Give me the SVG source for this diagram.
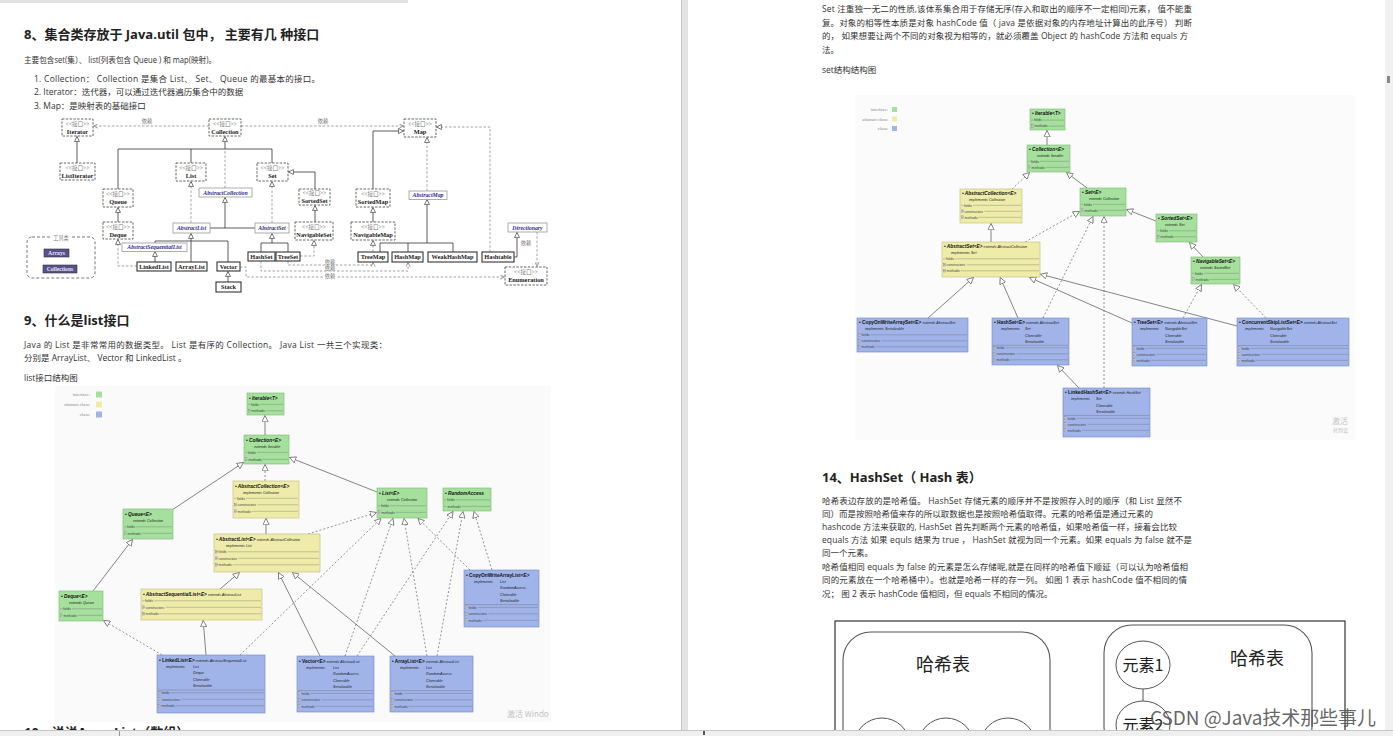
<svg xmlns="http://www.w3.org/2000/svg" width="1393" height="736" viewBox="0 0 1393 736">
<defs>
<style>
.bd{font-family:"Open Sans","Noto Sans CJK SC",sans-serif;font-size:8.5px;fill:#333}
.h{font-family:"Open Sans","Noto Sans CJK SC",sans-serif;font-size:13px;font-weight:bold;fill:#222}
.ib{fill:#fff;stroke:#555;stroke-width:.9;stroke-dasharray:2.4 1.4}
.ab{fill:#fff;stroke:#9a9a9a;stroke-width:.8}
.kb{fill:#fff;stroke:#333;stroke-width:1.1}
.st{font-family:"Liberation Serif","Noto Sans CJK SC",serif;font-size:5.6px;fill:#777;text-anchor:middle}
.cn{font-family:"Liberation Serif",serif;font-size:6.3px;font-weight:bold;fill:#222;text-anchor:middle}
.an{font-family:"Liberation Serif",serif;font-size:5.8px;font-weight:bold;font-style:italic;fill:#2f2b8f;text-anchor:middle}
.wt{font-family:"Liberation Serif",serif;font-size:5.6px;font-weight:bold;fill:#e6e6f2;text-anchor:middle}
.lb{font-family:"Noto Sans CJK SC",sans-serif;font-size:5.2px;fill:#777;text-anchor:middle}
.k1{fill:none;stroke:#333;stroke-width:.8}
.k2{fill:none;stroke:#8a8a8a;stroke-width:.8;stroke-dasharray:2.5 1.8}
.G{fill:#a5e09d;stroke:#7cb976;stroke-width:.6}
.Y{fill:#efeca9;stroke:#bebb7c;stroke-width:.6}
.B{fill:#a1b4e9;stroke:#7088c7;stroke-width:.6}
.tt{font-family:"Liberation Sans",sans-serif;font-size:4.8px;font-weight:bold;font-style:italic;fill:#111}
.tc{font-family:"Liberation Sans",sans-serif;font-size:4.8px;font-weight:bold;fill:#111}
.ex{font-family:"Liberation Sans",sans-serif;font-size:3.7px;font-style:italic;fill:#222}
.rw{font-family:"Liberation Sans",sans-serif;font-size:3.4px;fill:#444}
.rl{fill:none;stroke:#666;stroke-width:.35}
.cl{fill:none;stroke:#666;stroke-width:.8}
.cd{fill:none;stroke:#777;stroke-width:.8;stroke-dasharray:2 2}
.lg{font-family:"Liberation Serif",serif;font-size:4.6px;fill:#888;text-anchor:end}
.wm{font-family:"Noto Sans CJK SC",sans-serif;fill:#c4c4c4}
.hz{font-family:"Noto Sans CJK SC",sans-serif;fill:#222;text-anchor:middle}
.ol{fill:#fff;stroke:#555;stroke-width:1}
</style>
<g id="pl"><rect x="0" y="-2.6" width="2.6" height="2.6" fill="#fff" stroke="#444" stroke-width=".3"/><path d="M.5,-1.3h1.6M1.3,-2.1v1.6" stroke="#444" stroke-width=".3"/></g>
<marker id="tg" viewBox="0 0 10 10" refX="9.5" refY="5" markerWidth="7" markerHeight="7" markerUnits="userSpaceOnUse" orient="auto"><path d="M0.5,0.5L9.5,5L0.5,9.5z" fill="#fff" stroke="#666" stroke-width="1.1"/></marker>
<marker id="tk" viewBox="0 0 10 10" refX="9.5" refY="5" markerWidth="5.5" markerHeight="5.5" markerUnits="userSpaceOnUse" orient="auto"><path d="M0.5,0.5L9.5,5L0.5,9.5z" fill="#fff" stroke="#444" stroke-width="1.3"/></marker>
<marker id="ak" viewBox="0 0 10 10" refX="9.5" refY="5" markerWidth="5" markerHeight="5" markerUnits="userSpaceOnUse" orient="auto"><path d="M0.5,0.5L9.5,5L0.5,9.5" fill="none" stroke="#777" stroke-width="1.3"/></marker>
</defs>

<!-- page backgrounds -->
<rect width="1393" height="736" fill="#fff"/>
<rect x="0" y="0" width="408" height="3" fill="#e2e2e2"/>
<rect x="681" y="0" width="7" height="730" fill="#e3e3e3"/>
<line x1="681.5" y1="0" x2="681.5" y2="730" stroke="#c4c4c4"/>
<rect x="1385" y="0" width="8" height="736" fill="#f1f1f1"/>
<rect x="1387" y="76" width="3" height="7" fill="#888"/>

<!-- LEFT PAGE TEXT -->
<text class="h" x="24" y="39">8、集合类存放于 Java.util 包中， 主要有几 种接口</text>
<text class="bd" x="24" y="63" textLength="192" lengthAdjust="spacingAndGlyphs">主要包含set(集）、 list(列表包含 Queue ) 和 map(映射)。</text>
<text class="bd" x="34" y="82" textLength="286">1. Collection： Collection 是集合 List、 Set、 Queue 的最基本的接口。</text>
<text class="bd" x="34" y="95">2. Iterator：迭代器，可以通过迭代器遍历集合中的数据</text>
<text class="bd" x="34" y="109">3. Map：是映射表的基础接口</text>

<!-- COLLECTION FRAMEWORK DIAGRAM -->
<g id="collection-connectors">
<path class="k2" d="M209,126H93.5" marker-end="url(#ak)"/>
<text class="lb" x="147" y="123">依赖</text>
<path class="k2" d="M241,126H403.5" marker-end="url(#ak)"/>
<text class="lb" x="323" y="123">依赖</text>
<path class="k1" d="M77,163V136.5" marker-end="url(#tk)"/>
<path class="k2" d="M225,188V150"/>
<path class="k1" d="M118,189V149H272V163M191,149V163"/>
<path class="k1" d="M225,149V136.5" marker-end="url(#tk)"/>
<path class="k1" d="M315,189V172H288.5" marker-end="url(#tk)"/>
<path class="k2" d="M191,223V181.5" marker-end="url(#tk)"/>
<path class="k2" d="M272,223V181.5" marker-end="url(#tk)"/>
<path class="k1" d="M210,228H255"/>
<path class="k1" d="M225,228V197.5" marker-end="url(#tk)"/>
<path class="k1" d="M118,222V207.5" marker-end="url(#tk)"/>
<path class="k1" d="M315,222V205.5" marker-end="url(#tk)"/>
<path class="k1" d="M155,243V241H228V262"/>
<path class="k1" d="M191,262V233.5" marker-end="url(#tk)"/>
<path class="k1" d="M155,262V251.5" marker-end="url(#tk)"/>
<path class="k2" d="M137,266H118V239.5" marker-end="url(#tk)"/>
<path class="k1" d="M228,282V271.5" marker-end="url(#tk)"/>
<path class="k1" d="M261,252V243H288V252"/>
<path class="k1" d="M272,243V233.5" marker-end="url(#tk)"/>
<path class="k2" d="M300,256H314V240.5" marker-end="url(#tk)"/>
<path class="k2" d="M288,261V265H373V262.5" marker-end="url(#ak)"/>
<text class="lb" x="330" y="263.5">依赖</text>
<path class="k2" d="M261,261V271H408V262.5" marker-end="url(#ak)"/>
<text class="lb" x="330" y="270">依赖</text>
<path class="k2" d="M240,267H246V277H504.5" marker-end="url(#ak)"/>
<rect x="324" y="273" width="12" height="6" fill="#fff"/>
<text class="lb" x="330" y="278">依赖</text>
<path class="k1" d="M373,189V131H403.5" marker-end="url(#tk)"/>
<path class="k2" d="M427,191V137.5" marker-end="url(#tk)"/>
<path class="k1" d="M373,222V207.5" marker-end="url(#tk)"/>
<path class="k2" d="M373,252V240.5" marker-end="url(#tk)"/>
<path class="k1" d="M380,252V243H453V252M408,243V252"/>
<path class="k1" d="M427,243V199.5" marker-end="url(#tk)"/>
<path class="k2" d="M490,252V127H436.5" marker-end="url(#tk)"/>
<path class="k1" d="M514,257H517V232.5" marker-end="url(#tk)"/>
<path class="k2" d="M537,232V266.5" marker-end="url(#ak)"/>
<text class="lb" x="526" y="245">依赖</text>
</g>

<g id="c-iterator" transform="translate(62,119)"><rect class="ib" width="31" height="17"/><text class="st" x="15.5" y="6.5">&lt;&lt;接口&gt;&gt;</text><text class="cn" x="15.5" y="14.5">Iterator</text></g>
<g id="c-collection" transform="translate(209,119)"><rect class="ib" width="32" height="17"/><text class="st" x="16" y="6.5">&lt;&lt;接口&gt;&gt;</text><text class="cn" x="16" y="14.5">Collection</text></g>
<g id="c-map" transform="translate(404,119)"><rect class="ib" width="32" height="18"/><text class="st" x="16" y="6.5">&lt;&lt;接口&gt;&gt;</text><text class="cn" x="16" y="15">Map</text></g>
<g id="c-listiterator" transform="translate(60,163)"><rect class="ib" width="35" height="17"/><text class="st" x="17.5" y="6.5">&lt;&lt;接口&gt;&gt;</text><text class="cn" x="17.5" y="14.5">ListIterator</text></g>
<g id="c-list" transform="translate(176,163)"><rect class="ib" width="30" height="18"/><text class="st" x="15" y="6.5">&lt;&lt;接口&gt;&gt;</text><text class="cn" x="15" y="15">List</text></g>
<g id="c-set" transform="translate(257,163)"><rect class="ib" width="31" height="18"/><text class="st" x="15.5" y="6.5">&lt;&lt;接口&gt;&gt;</text><text class="cn" x="15.5" y="15">Set</text></g>
<g id="c-queue" transform="translate(103,189)"><rect class="ib" width="30" height="18"/><text class="st" x="15" y="6.5">&lt;&lt;接口&gt;&gt;</text><text class="cn" x="15" y="15">Queue</text></g>
<g id="c-sortedset" transform="translate(299,189)"><rect class="ib" width="31" height="16"/><text class="st" x="15.5" y="6">&lt;&lt;接口&gt;&gt;</text><text class="cn" x="15.5" y="13.5">SortedSet</text></g>
<g id="c-sortedmap" transform="translate(356,189)"><rect class="ib" width="34" height="18"/><text class="st" x="17" y="6.5">&lt;&lt;接口&gt;&gt;</text><text class="cn" x="17" y="15">SortedMap</text></g>
<g id="c-deque" transform="translate(103,222)"><rect class="ib" width="30" height="17"/><text class="st" x="15" y="6.5">&lt;&lt;接口&gt;&gt;</text><text class="cn" x="15" y="14.5">Deque</text></g>
<g id="c-navigableset" transform="translate(295,222)"><rect class="ib" width="38" height="18"/><text class="st" x="19" y="6.5">&lt;&lt;接口&gt;&gt;</text><text class="cn" x="19" y="15">NavigableSet</text></g>
<g id="c-navigablemap" transform="translate(351,222)"><rect class="ib" width="44" height="18"/><text class="st" x="22" y="6.5">&lt;&lt;接口&gt;&gt;</text><text class="cn" x="22" y="15">NavigableMap</text></g>
<g id="c-enumeration" transform="translate(505,267)"><rect class="ib" width="42" height="18"/><text class="st" x="21" y="6.5">&lt;&lt;接口&gt;&gt;</text><text class="cn" x="21" y="15">Enumeration</text></g>

<g id="c-abstractcollection" transform="translate(199,188)"><rect class="ab" width="53" height="9"/><text class="an" x="26.5" y="6.6">AbstractCollection</text></g>
<g id="c-abstractlist" transform="translate(173,223)"><rect class="ab" width="37" height="10"/><text class="an" x="18.5" y="7">AbstractList</text></g>
<g id="c-abstractset" transform="translate(255,223)"><rect class="ab" width="34" height="10"/><text class="an" x="17" y="7">AbstractSet</text></g>
<g id="c-abstractsequentiallist" transform="translate(122,243)"><rect class="ab" width="65" height="8.5"/><text class="an" x="32.5" y="6.4">AbstractSequentialList</text></g>
<g id="c-abstractmap" transform="translate(409,191)"><rect class="ab" width="38" height="8.5"/><text class="an" x="19" y="6.4">AbstractMap</text></g>
<g id="c-directionary" transform="translate(508,223)"><rect class="ab" width="39" height="9"/><text class="an" x="19.5" y="6.6">Directionary</text></g>

<g id="c-linkedlist" transform="translate(137,262)"><rect class="kb" width="34" height="9"/><text class="cn" x="17" y="6.8">LinkedList</text></g>
<g id="c-arraylist" transform="translate(176,262)"><rect class="kb" width="31" height="9"/><text class="cn" x="15.5" y="6.8">ArrayList</text></g>
<g id="c-vector" transform="translate(217,262)"><rect class="kb" width="23" height="9"/><text class="cn" x="11.5" y="6.8">Vector</text></g>
<g id="c-stack" transform="translate(216,282)"><rect class="kb" width="25" height="10"/><text class="cn" x="12.5" y="7.3">Stack</text></g>
<g id="c-hashset" transform="translate(248,252)"><rect class="kb" width="27" height="9"/><text class="cn" x="13.5" y="6.8">HashSet</text></g>
<g id="c-treeset" transform="translate(276,252)"><rect class="kb" width="24" height="9"/><text class="cn" x="12" y="6.8">TreeSet</text></g>
<g id="c-treemap" transform="translate(358,252)"><rect class="kb" width="30" height="10"/><text class="cn" x="15" y="7.3">TreeMap</text></g>
<g id="c-hashmap" transform="translate(392,252)"><rect class="kb" width="31" height="10"/><text class="cn" x="15.5" y="7.3">HashMap</text></g>
<g id="c-weakhashmap" transform="translate(428,252)"><rect class="kb" width="49" height="10"/><text class="cn" x="24.5" y="7.3">WeakHashMap</text></g>
<g id="c-hashtable" transform="translate(482,252)"><rect class="kb" width="32" height="10"/><text class="cn" x="16" y="7.3">Hashtable</text></g>

<g id="c-tools" transform="translate(27,237)">
<rect width="68" height="41" rx="5" fill="none" stroke="#666" stroke-width=".9" stroke-dasharray="3 2"/>
<rect x="23" y="-3" width="22" height="6" fill="#fff"/>
<text class="lb" x="34" y="2.8">工具类</text>
<rect x="17" y="12" width="25" height="8" fill="#56528f" stroke="#333" stroke-width=".6"/>
<text class="wt" x="29.5" y="18">Arrays</text>
<rect x="16" y="28" width="34" height="8" fill="#56528f" stroke="#333" stroke-width=".6"/>
<text class="wt" x="33" y="34">Collections</text>
</g>

<!-- SECTION 9 -->
<text class="h" x="24" y="325">9、什么是list接口</text>
<text class="bd" x="24" y="348" textLength="363">Java 的 List 是非常常用的数据类型。 List 是有序的 Collection。 Java List 一共三个实现类：</text>
<text class="bd" x="24" y="361">分别是 ArrayList、 Vector 和 LinkedList 。</text>
<text class="bd" x="24" y="381">list接口结构图</text>

<!-- LIST DIAGRAM -->
<rect x="55" y="386" width="496" height="336" fill="#fafafa"/>
<g id="list-legend">
<text class="lg" x="90" y="395.5">interface:</text><rect x="96" y="391.5" width="6" height="6" fill="#a5e09d"/>
<text class="lg" x="90" y="405.5">abstract class:</text><rect x="96" y="401.5" width="6" height="6" fill="#efeca9"/>
<text class="lg" x="90" y="415.5">class:</text><rect x="96" y="411.5" width="6" height="6" fill="#a1b4e9"/>
</g>
<g id="list-connectors">
<path class="cl" d="M265,435V415.5" marker-end="url(#tg)"/>
<path class="cd" d="M265,481V464.5" marker-end="url(#tg)"/>
<path class="cl" d="M172,510L243.5,462.5" marker-end="url(#tg)"/>
<path class="cl" d="M377,492L289.5,457.5" marker-end="url(#tg)"/>
<path class="cl" d="M266,534V518.5" marker-end="url(#tg)"/>
<path class="cd" d="M308,534L376.5,512.5" marker-end="url(#tg)"/>
<path class="cl" d="M93,591L132.5,539.5" marker-end="url(#tg)"/>
<path class="cl" d="M220,589L239.5,572.5" marker-end="url(#tg)"/>
<path class="cl" d="M206,655L203.2,620.5" marker-end="url(#tg)"/>
<path class="cd" d="M162,655L103.5,620.5" marker-end="url(#tg)"/>
<path class="cd" d="M240,655L381,518.5" marker-end="url(#tg)"/>
<path class="cl" d="M320,656L278.5,572.5" marker-end="url(#tg)"/>
<path class="cd" d="M345,656L393,518.5" marker-end="url(#tg)"/>
<path class="cd" d="M357,656L453,511.5" marker-end="url(#tg)"/>
<path class="cl" d="M395,656L292.5,572.5" marker-end="url(#tg)"/>
<path class="cd" d="M427,656L404,518.5" marker-end="url(#tg)"/>
<path class="cd" d="M437,656L463,511.5" marker-end="url(#tg)"/>
<path class="cd" d="M470,570L418,518.5" marker-end="url(#tg)"/>
<path class="cd" d="M492,570L474,511.5" marker-end="url(#tg)"/>
</g>

<g id="l-iterable" transform="translate(247,393)"><rect class="G" width="37" height="22"/><text class="tt" x="2" y="6.5">• Iterable&lt;T&gt;</text><text class="rw" x="4" y="12.5">fields</text><use href="#pl" x="1.2" y="19"/><text class="rw" x="4.6" y="19">methods</text><path class="rl" d="M1,11.3h2.4M13,11.3H36M18.5,17.8H36"/></g>
<g id="l-collection" transform="translate(244,435)"><rect class="G" width="45" height="29"/><text class="tt" x="2" y="6.5">• Collection&lt;E&gt;</text><text class="ex" x="10" y="12.5">extends  Iterable</text><text class="rw" x="4" y="18.5">fields</text><use href="#pl" x="1.2" y="25.5"/><text class="rw" x="4.6" y="25.5">methods</text><path class="rl" d="M1,17.3h2.4M13,17.3H44M18.5,24.3H44"/></g>
<g id="l-abstractcollection" transform="translate(233,481)"><rect class="Y" width="66" height="37"/><text class="tt" x="2" y="6.5">• AbstractCollection&lt;E&gt;</text><text class="ex" x="10" y="12.5">implements  Collection</text><text class="rw" x="4" y="18.5">fields</text><use href="#pl" x="1.2" y="25"/><text class="rw" x="4.6" y="25">constructors</text><use href="#pl" x="1.2" y="31.5"/><text class="rw" x="4.6" y="31.5">methods</text><path class="rl" d="M1,17.3h2.4M13,17.3H65M24.5,23.8H65M18.5,30.3H65"/></g>
<g id="l-queue" transform="translate(123,509)"><rect class="G" width="50" height="30"/><text class="tt" x="2" y="6.5">• Queue&lt;E&gt;</text><text class="ex" x="10" y="12.5">extends  Collection</text><text class="rw" x="4" y="19">fields</text><use href="#pl" x="1.2" y="25.5"/><text class="rw" x="4.6" y="25.5">methods</text><path class="rl" d="M1,17.8h2.4M13,17.8H49M18.5,24.3H49"/></g>
<g id="l-abstractlist" transform="translate(214,534)"><rect class="Y" width="106" height="38"/><text x="2" y="6.5"><tspan class="tt">• AbstractList&lt;E&gt;</tspan><tspan class="ex"> extends AbstractCollection</tspan></text><text class="ex" x="12" y="12.5">implements  List</text><use href="#pl" x="1.2" y="19"/><text class="rw" x="4.6" y="19">fields</text><use href="#pl" x="1.2" y="25.5"/><text class="rw" x="4.6" y="25.5">constructors</text><use href="#pl" x="1.2" y="32"/><text class="rw" x="4.6" y="32">methods</text><path class="rl" d="M13.6,17.8H105M24.5,24.3H105M18.5,30.8H105"/></g>
<g id="l-deque" transform="translate(59,591)"><rect class="G" width="44" height="30"/><text class="tt" x="2" y="6.5">• Deque&lt;E&gt;</text><text class="ex" x="10" y="12.5">extends  Queue</text><text class="rw" x="4" y="19">fields</text><use href="#pl" x="1.2" y="25.5"/><text class="rw" x="4.6" y="25.5">methods</text><path class="rl" d="M1,17.8h2.4M13,17.8H43M18.5,24.3H43"/></g>
<g id="l-abstractsequentiallist" transform="translate(141,589)"><rect class="Y" width="121" height="31"/><text x="2" y="6.5"><tspan class="tt">• AbstractSequentialList&lt;E&gt;</tspan><tspan class="ex"> extends AbstractList</tspan></text><text class="rw" x="4" y="13">fields</text><use href="#pl" x="1.2" y="19.5"/><text class="rw" x="4.6" y="19.5">constructors</text><use href="#pl" x="1.2" y="26"/><text class="rw" x="4.6" y="26">methods</text><path class="rl" d="M1,11.8h2.4M13,11.8H120M24.5,18.3H120M18.5,24.8H120"/></g>
<g id="l-list" transform="translate(377,488)"><rect class="G" width="50" height="30"/><text class="tt" x="2" y="6.5">• List&lt;E&gt;</text><text class="ex" x="10" y="12.5">extends  Collection</text><text class="rw" x="4" y="19">fields</text><use href="#pl" x="1.2" y="25.5"/><text class="rw" x="4.6" y="25.5">methods</text><path class="rl" d="M1,17.8h2.4M13,17.8H49M18.5,24.3H49"/></g>
<g id="l-randomaccess" transform="translate(443,488)"><rect class="G" width="48" height="23"/><text class="tt" x="2" y="6.5">• RandomAccess</text><text class="rw" x="4" y="13">fields</text><text class="rw" x="4.6" y="19.5">methods</text><path class="rl" d="M1,11.8h2.4M13,11.8H47M1,18.3h2.4M18.5,18.3H47"/></g>
<g id="l-copyonwritearraylist" transform="translate(464,570)"><rect class="B" width="75" height="57"/><text class="tc" x="2" y="6.5">• CopyOnWriteArrayList&lt;E&gt;</text><text class="ex" x="10" y="12.5">implements</text><text class="ex" x="36" y="12.5">List</text><text class="ex" x="36" y="19">RandomAccess</text><text class="ex" x="36" y="25.5">Cloneable</text><text class="ex" x="36" y="32">Serializable</text><use href="#pl" x="1.2" y="38.5"/><text class="rw" x="4.6" y="38.5">fields</text><use href="#pl" x="1.2" y="45"/><text class="rw" x="4.6" y="45">constructors</text><use href="#pl" x="1.2" y="51.5"/><text class="rw" x="4.6" y="51.5">methods</text><path class="rl" d="M1,34.6H74M13.6,37.3H74M24.5,43.8H74M18.5,50.3H74"/></g>
<g id="l-linkedlist" transform="translate(157,655)"><rect class="B" width="108" height="58"/><text x="2" y="6.5"><tspan class="tc">• LinkedList&lt;E&gt;</tspan><tspan class="ex"> extends AbstractSequentialList</tspan></text><text class="ex" x="9" y="12.5">implements</text><text class="ex" x="36" y="12.5">List</text><text class="ex" x="36" y="19">Deque</text><text class="ex" x="36" y="25.5">Cloneable</text><text class="ex" x="36" y="32">Serializable</text><use href="#pl" x="1.2" y="39"/><text class="rw" x="4.6" y="39">fields</text><use href="#pl" x="1.2" y="45.5"/><text class="rw" x="4.6" y="45.5">constructors</text><use href="#pl" x="1.2" y="52"/><text class="rw" x="4.6" y="52">methods</text><path class="rl" d="M1,35H107M13.6,37.8H107M24.5,44.3H107M18.5,50.8H107"/></g>
<g id="l-vector" transform="translate(297,656)"><rect class="B" width="77" height="56"/><text x="2" y="6.5"><tspan class="tc">• Vector&lt;E&gt;</tspan><tspan class="ex"> extends AbstractList</tspan></text><text class="ex" x="9" y="12.5">implements</text><text class="ex" x="36" y="12.5">List</text><text class="ex" x="36" y="19">RandomAccess</text><text class="ex" x="36" y="25.5">Cloneable</text><text class="ex" x="36" y="32">Serializable</text><use href="#pl" x="1.2" y="38.5"/><text class="rw" x="4.6" y="38.5">fields</text><use href="#pl" x="1.2" y="45"/><text class="rw" x="4.6" y="45">constructors</text><use href="#pl" x="1.2" y="51.5"/><text class="rw" x="4.6" y="51.5">methods</text><path class="rl" d="M1,34.6H76M13.6,37.3H76M24.5,43.8H76M18.5,50.3H76"/></g>
<g id="l-arraylist" transform="translate(390,656)"><rect class="B" width="83" height="56"/><text x="2" y="6.5"><tspan class="tc">• ArrayList&lt;E&gt;</tspan><tspan class="ex"> extends AbstractList</tspan></text><text class="ex" x="10" y="12.5">implements</text><text class="ex" x="36" y="12.5">List</text><text class="ex" x="36" y="19">RandomAccess</text><text class="ex" x="36" y="25.5">Cloneable</text><text class="ex" x="36" y="32">Serializable</text><use href="#pl" x="1.2" y="38.5"/><text class="rw" x="4.6" y="38.5">fields</text><use href="#pl" x="1.2" y="45"/><text class="rw" x="4.6" y="45">constructors</text><use href="#pl" x="1.2" y="51.5"/><text class="rw" x="4.6" y="51.5">methods</text><path class="rl" d="M1,34.6H82M13.6,37.3H82M24.5,43.8H82M18.5,50.3H82"/></g>
<text class="wm" x="507" y="717" font-size="8">激活 Windo</text>

<text class="h" x="24" y="737">10、说说ArrayList（数组）</text>

<!-- RIGHT PAGE TEXT -->
<text class="bd" x="822" y="12" textLength="370">Set 注重独一无二的性质,该体系集合用于存储无序(存入和取出的顺序不一定相同)元素， 值不能重</text>
<text class="bd" x="822" y="25.5" textLength="370">复。对象的相等性本质是对象 hashCode 值（ java 是依据对象的内存地址计算出的此序号） 判断</text>
<text class="bd" x="822" y="39" textLength="366">的， 如果想要让两个不同的对象视为相等的，就必须覆盖 Object 的 hashCode 方法和 equals 方</text>
<text class="bd" x="822" y="52.5">法。</text>
<text class="bd" x="822" y="73">set结构结构图</text>

<!-- SET DIAGRAM -->
<rect x="855" y="95" width="500" height="345" fill="#fbfbfb"/>
<g id="set-legend">
<text class="lg" x="888" y="111">interface:</text><rect x="892" y="107" width="5" height="5" fill="#a5e09d"/>
<text class="lg" x="888" y="120.5">abstract class:</text><rect x="892" y="116.5" width="5" height="5" fill="#efeca9"/>
<text class="lg" x="888" y="130">class:</text><rect x="892" y="126" width="5" height="5" fill="#a1b4e9"/>
</g>
<g id="set-connectors">
<path class="cl" d="M1047,145V130.5" marker-end="url(#tg)"/>
<path class="cd" d="M1012,189L1029.5,172.5" marker-end="url(#tg)"/>
<path class="cl" d="M1087,188L1066.5,172.5" marker-end="url(#tg)"/>
<path class="cl" d="M991,242V223.5" marker-end="url(#tg)"/>
<path class="cd" d="M1025,242L1079.5,211.5" marker-end="url(#tg)"/>
<path class="cl" d="M1156,221L1126.5,209.5" marker-end="url(#tg)"/>
<path class="cl" d="M1203,257L1189.5,242.5" marker-end="url(#tg)"/>
<path class="cl" d="M928,318L973.5,277.5" marker-end="url(#tg)"/>
<path class="cl" d="M1018,318L1000.2,277.5" marker-end="url(#tg)"/>
<path class="cd" d="M1043,318L1093,216.5" marker-end="url(#tg)"/>
<path class="cl" d="M1079,388L1057.5,365.5" marker-end="url(#tg)"/>
<path class="cd" d="M1104,388V216.5" marker-end="url(#tg)"/>
<path class="cl" d="M1132,323L1029.5,277.5" marker-end="url(#tg)"/>
<path class="cl" d="M1237,326L1040.5,274.2" marker-end="url(#tg)"/>
<path class="cd" d="M1183,318L1201.5,284.5" marker-end="url(#tg)"/>
<path class="cd" d="M1266,318L1233.5,284.5" marker-end="url(#tg)"/>
</g>

<g id="s-iterable" transform="translate(1030,109)"><rect class="G" width="35" height="21"/><text class="tt" x="2" y="6.3">• Iterable&lt;T&gt;</text><text class="rw" x="4" y="12.3">fields</text><use href="#pl" x="1.2" y="18.3"/><text class="rw" x="4.6" y="18.3">methods</text><path class="rl" d="M1,11.1h2.4M13,11.1H34M18.5,17.1H34"/></g>
<g id="s-collection" transform="translate(1027,145)"><rect class="G" width="43" height="27"/><text class="tt" x="2" y="6.3">• Collection&lt;E&gt;</text><text class="ex" x="10" y="12">extends  Iterable</text><text class="rw" x="4" y="17.5">fields</text><use href="#pl" x="1.2" y="23.5"/><text class="rw" x="4.6" y="23.5">methods</text><path class="rl" d="M1,16.3h2.4M13,16.3H42M18.5,22.3H42"/></g>
<g id="s-abstractcollection" transform="translate(960,189)"><rect class="Y" width="62" height="34"/><text class="tt" x="2" y="6.3">• AbstractCollection&lt;E&gt;</text><text class="ex" x="9" y="12">implements  Collection</text><text class="rw" x="4" y="17.5">fields</text><use href="#pl" x="1.2" y="23.5"/><text class="rw" x="4.6" y="23.5">constructors</text><use href="#pl" x="1.2" y="29.5"/><text class="rw" x="4.6" y="29.5">methods</text><path class="rl" d="M1,16.3h2.4M13,16.3H61M24.5,22.3H61M18.5,28.3H61"/></g>
<g id="s-set" transform="translate(1080,188)"><rect class="G" width="46" height="28"/><text class="tt" x="2" y="6.3">• Set&lt;E&gt;</text><text class="ex" x="9" y="12">extends  Collection</text><text class="rw" x="4" y="17.5">fields</text><use href="#pl" x="1.2" y="23.5"/><text class="rw" x="4.6" y="23.5">methods</text><path class="rl" d="M1,16.3h2.4M13,16.3H45M18.5,22.3H45"/></g>
<g id="s-abstractset" transform="translate(942,242)"><rect class="Y" width="98" height="35"/><text x="2" y="6.3"><tspan class="tt">• AbstractSet&lt;E&gt;</tspan><tspan class="ex"> extends AbstractCollection</tspan></text><text class="ex" x="9" y="12">implements  Set</text><text class="rw" x="4" y="18">fields</text><use href="#pl" x="1.2" y="24"/><text class="rw" x="4.6" y="24">constructors</text><use href="#pl" x="1.2" y="30"/><text class="rw" x="4.6" y="30">methods</text><path class="rl" d="M1,16.8h2.4M13,16.8H97M24.5,22.8H97M18.5,28.8H97"/></g>
<g id="s-sortedset" transform="translate(1156,214)"><rect class="G" width="41" height="28"/><text class="tt" x="2" y="6.3">• SortedSet&lt;E&gt;</text><text class="ex" x="9" y="12">extends  Set</text><text class="rw" x="4" y="18">fields</text><use href="#pl" x="1.2" y="24"/><text class="rw" x="4.6" y="24">methods</text><path class="rl" d="M1,16.8h2.4M13,16.8H40M18.5,22.8H40"/></g>
<g id="s-navigableset" transform="translate(1191,257)"><rect class="G" width="49" height="27"/><text class="tt" x="2" y="6.3">• NavigableSet&lt;E&gt;</text><text class="ex" x="9" y="12">extends  SortedSet</text><text class="rw" x="4" y="17.5">fields</text><use href="#pl" x="1.2" y="23.5"/><text class="rw" x="4.6" y="23.5">methods</text><path class="rl" d="M1,16.3h2.4M13,16.3H48M18.5,22.3H48"/></g>
<g id="s-copyonwritearrayset" transform="translate(857,318)"><rect class="B" width="111" height="34"/><text x="2" y="6.3"><tspan class="tc">• CopyOnWriteArraySet&lt;E&gt;</tspan><tspan class="ex"> extends AbstractSet</tspan></text><text class="ex" x="8" y="12">implements  Serializable</text><use href="#pl" x="1.2" y="18"/><text class="rw" x="4.6" y="18">fields</text><use href="#pl" x="1.2" y="24"/><text class="rw" x="4.6" y="24">constructors</text><use href="#pl" x="1.2" y="30"/><text class="rw" x="4.6" y="30">methods</text><path class="rl" d="M13.6,16.8H110M24.5,22.8H110M18.5,28.8H110"/></g>
<g id="s-hashset" transform="translate(992,318)"><rect class="B" width="77" height="47"/><text x="2" y="6.3"><tspan class="tc">• HashSet&lt;E&gt;</tspan><tspan class="ex"> extends AbstractSet</tspan></text><text class="ex" x="9" y="12">implements</text><text class="ex" x="33" y="12">Set</text><text class="ex" x="33" y="18.5">Cloneable</text><text class="ex" x="33" y="25">Serializable</text><use href="#pl" x="1.2" y="31"/><text class="rw" x="4.6" y="31">fields</text><use href="#pl" x="1.2" y="37"/><text class="rw" x="4.6" y="37">constructors</text><use href="#pl" x="1.2" y="43"/><text class="rw" x="4.6" y="43">methods</text><path class="rl" d="M1,27.3H76M13.6,29.8H76M24.5,35.8H76M18.5,41.8H76"/></g>
<g id="s-treeset" transform="translate(1132,318)"><rect class="B" width="75" height="48"/><text x="2" y="6.3"><tspan class="tc">• TreeSet&lt;E&gt;</tspan><tspan class="ex"> extends AbstractSet</tspan></text><text class="ex" x="8" y="12">implements</text><text class="ex" x="33" y="12">NavigableSet</text><text class="ex" x="33" y="18.5">Cloneable</text><text class="ex" x="33" y="25">Serializable</text><use href="#pl" x="1.2" y="31.5"/><text class="rw" x="4.6" y="31.5">fields</text><use href="#pl" x="1.2" y="37.5"/><text class="rw" x="4.6" y="37.5">constructors</text><use href="#pl" x="1.2" y="43.5"/><text class="rw" x="4.6" y="43.5">methods</text><path class="rl" d="M1,27.5H74M13.6,30.3H74M24.5,36.3H74M18.5,42.3H74"/></g>
<g id="s-concurrentskiplistset" transform="translate(1237,318)"><rect class="B" width="112" height="48"/><text x="2" y="6.3"><tspan class="tc">• ConcurrentSkipListSet&lt;E&gt;</tspan><tspan class="ex"> extends AbstractSet</tspan></text><text class="ex" x="8" y="12">implements</text><text class="ex" x="33" y="12">NavigableSet</text><text class="ex" x="33" y="18.5">Cloneable</text><text class="ex" x="33" y="25">Serializable</text><use href="#pl" x="1.2" y="31.5"/><text class="rw" x="4.6" y="31.5">fields</text><use href="#pl" x="1.2" y="37.5"/><text class="rw" x="4.6" y="37.5">constructors</text><use href="#pl" x="1.2" y="43.5"/><text class="rw" x="4.6" y="43.5">methods</text><path class="rl" d="M1,27.5H111M13.6,30.3H111M24.5,36.3H111M18.5,42.3H111"/></g>
<g id="s-linkedhashset" transform="translate(1063,388)"><rect class="B" width="87" height="49"/><text x="2" y="6.3"><tspan class="tc">• LinkedHashSet&lt;E&gt;</tspan><tspan class="ex"> extends HashSet</tspan></text><text class="ex" x="8" y="12">implements</text><text class="ex" x="33" y="12">Set</text><text class="ex" x="33" y="18.5">Cloneable</text><text class="ex" x="33" y="25">Serializable</text><use href="#pl" x="1.2" y="31.5"/><text class="rw" x="4.6" y="31.5">fields</text><use href="#pl" x="1.2" y="37.5"/><text class="rw" x="4.6" y="37.5">constructors</text><use href="#pl" x="1.2" y="43.5"/><text class="rw" x="4.6" y="43.5">methods</text><path class="rl" d="M1,27.5H86M13.6,30.3H86M24.5,36.3H86M18.5,42.3H86"/></g>
<text class="wm" x="1332" y="424" font-size="8">激活</text>
<text class="wm" x="1333" y="432" font-size="5">转到设</text>

<!-- SECTION 14 -->
<text class="h" x="822" y="482">14、HashSet（ Hash 表）</text>
<text class="bd" x="822" y="504" textLength="360">哈希表边存放的是哈希值。 HashSet 存储元素的顺序并不是按照存入时的顺序（和 List 显然不</text>
<text class="bd" x="822" y="517" textLength="331">同）而是按照哈希值来存的所以取数据也是按照哈希值取得。元素的哈希值是通过元素的</text>
<text class="bd" x="822" y="530" textLength="355">hashcode 方法来获取的, HashSet 首先判断两个元素的哈希值，如果哈希值一样，接着会比较</text>
<text class="bd" x="822" y="543" textLength="370">equals 方法 如果 equls 结果为 true ， HashSet 就视为同一个元素。如果 equals 为 false 就不是</text>
<text class="bd" x="822" y="556">同一个元素。</text>
<text class="bd" x="822" y="570" textLength="366">哈希值相同 equals 为 false 的元素是怎么存储呢,就是在同样的哈希值下顺延（可以认为哈希值相</text>
<text class="bd" x="822" y="583" textLength="365">同的元素放在一个哈希桶中）。也就是哈希一样的存一列。 如图 1 表示 hashCode 值不相同的情</text>
<text class="bd" x="822" y="597">况； 图 2 表示 hashCode 值相同，但 equals 不相同的情况。</text>

<!-- HASH FIGURE -->
<g id="hash-figure">
<rect x="835" y="621" width="510" height="130" fill="#fff" stroke="#333" stroke-width="1.2"/>
<rect x="843" y="632" width="207" height="130" rx="28" fill="none" stroke="#555" stroke-width="1.1"/>
<rect x="1104" y="625" width="208" height="130" rx="28" fill="none" stroke="#555" stroke-width="1.1"/>
<text class="hz" x="943" y="671" font-size="18">哈希表</text>
<text class="hz" x="1257" y="665" font-size="18">哈希表</text>
<ellipse class="ol" cx="1143" cy="665" rx="27" ry="24"/>
<text class="hz" x="1143" y="671" font-size="16">元素1</text>
<line x1="1143" y1="689" x2="1143" y2="701" stroke="#555"/>
<ellipse class="ol" cx="1143" cy="725" rx="27" ry="24"/>
<text class="hz" x="1143" y="731" font-size="16">元素2</text>
<ellipse class="ol" cx="882" cy="746" rx="28" ry="28"/>
<ellipse class="ol" cx="946" cy="746" rx="28" ry="28"/>
<ellipse class="ol" cx="1008" cy="746" rx="28" ry="28"/>
<text class="hz" x="882" y="745" font-size="17">元素1</text>
<text class="hz" x="946" y="745" font-size="17">元素2</text>
<text class="hz" x="1008" y="745" font-size="17">元素3</text>
<text x="1052" y="742" font-family="Liberation Mono,monospace" font-size="15" fill="#cfcfcf">http://blog.csdn.net/</text>
<text x="1150" y="725" font-family="Noto Sans CJK SC,sans-serif" font-size="19" fill="#4a4a4a" fill-opacity=".85" textLength="226">CSDN @Java技术那些事儿</text>
</g>

<!-- bottom bar -->
<rect x="0" y="730" width="1393" height="6" fill="#efefef"/>
<line x1="0" y1="730.5" x2="1393" y2="730.5" stroke="#c6c6c6"/>
<line x1="119.5" y1="731" x2="119.5" y2="736" stroke="#999"/>
<rect x="703" y="731" width="2" height="4" fill="#555"/>
</svg>
